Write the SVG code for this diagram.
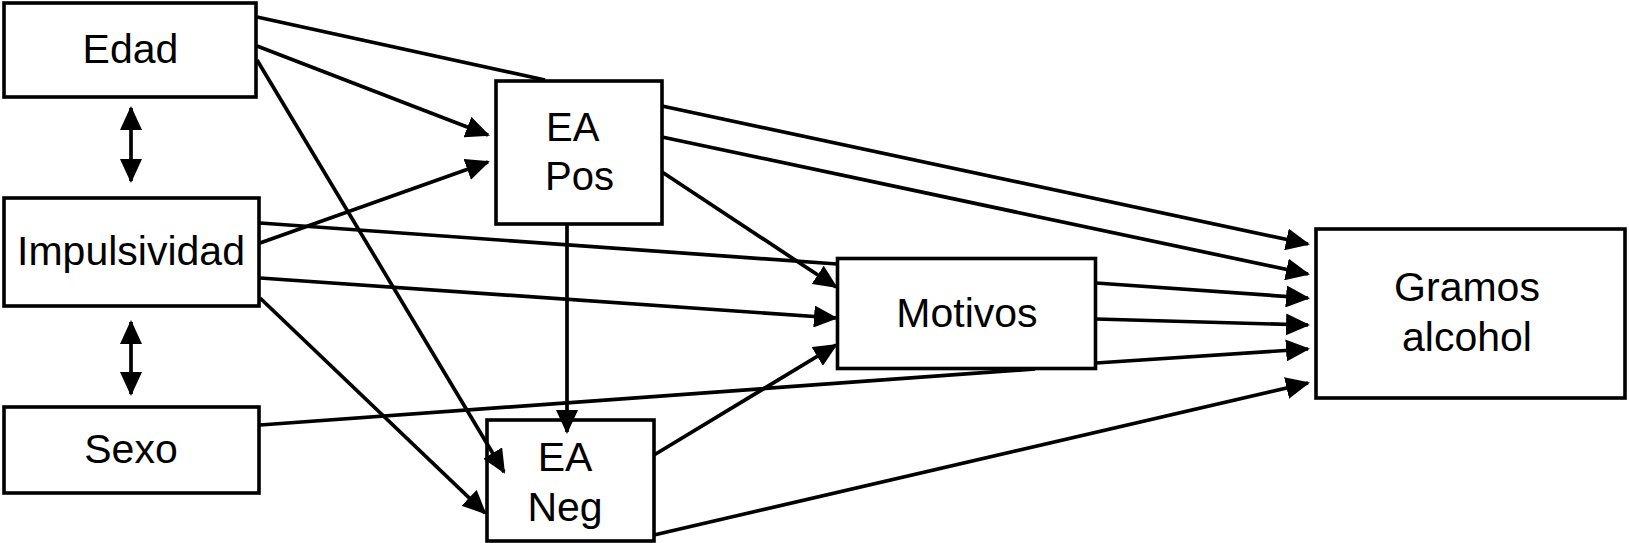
<svg xmlns="http://www.w3.org/2000/svg" width="1629" height="543" viewBox="0 0 1629 543">
<style>
.box{fill:#fff;stroke:#000;stroke-width:3.6}
.lbl{font-family:"Liberation Sans",Arial,sans-serif;font-size:41px;fill:#000;text-anchor:middle}
.lbl2{font-family:"Liberation Sans",Arial,sans-serif;font-size:40px;fill:#000}
.c{fill:none;stroke:#000;stroke-width:3.7}
.a{marker-end:url(#ah)}
.d{marker-start:url(#ah);marker-end:url(#ah)}
</style>
<defs>
<marker id="ah" markerUnits="userSpaceOnUse" viewBox="0 0 24 22" markerWidth="24" markerHeight="22" refX="22" refY="11" orient="auto-start-reverse">
<path d="M0,0 L24,11 L0,22 z" fill="#000"/>
</marker>
</defs>
<rect width="1629" height="543" fill="#fff"/>
<g id="nodes">
<g id="edad"><rect class="box" x="4" y="3" width="252" height="94"/><text class="lbl" x="130.5" y="63">Edad</text></g>
<g id="impulsividad"><rect class="box" x="4" y="198" width="255" height="108"/><text class="lbl" x="131" y="265">Impulsividad</text></g>
<g id="sexo"><rect class="box" x="4" y="407" width="255" height="86"/><text class="lbl" x="131" y="463">Sexo</text></g>
<g id="eapos"><rect class="box" x="496" y="81" width="166" height="143"/><text class="lbl2" x="546" y="141">EA</text><text class="lbl2" x="545" y="190">Pos</text></g>
<g id="eaneg"><rect class="box" x="487" y="420" width="167" height="121"/><text class="lbl" x="565" y="471">EA</text><text class="lbl" x="565" y="521">Neg</text></g>
<g id="motivos"><rect class="box" x="837.5" y="258.5" width="258" height="110"/><text class="lbl" x="967" y="327">Motivos</text></g>
<g id="gramos"><rect class="box" x="1316" y="229" width="309" height="169"/><text class="lbl" x="1467" y="301">Gramos</text><text class="lbl" x="1467" y="351">alcohol</text></g>
</g>
<g id="connectors">
<path class="c a" d="M257,17 L545,80 M662,106 L1308,244"/>
<path class="c a" d="M257,46 L488,135"/>
<path class="c a" d="M257,60 L504,472"/>
<path class="c a" d="M260,243 L488,162"/>
<path class="c a" d="M260,223 L837,264 M1096,283 L1308,298"/>
<path class="c a" d="M260,278 L836,318"/>
<path class="c a" d="M260,298 L485,513"/>
<path class="c a" d="M260,425 L1035,369 M1096,363 L1308,349"/>
<path class="c a" d="M662,137 L1308,274"/>
<path class="c a" d="M662,172 L836,287"/>
<path class="c a" d="M567,224 L567,432"/>
<path class="c a" d="M654,455 L836,345"/>
<path class="c a" d="M654,535 L1308,383"/>
<path class="c a" d="M1096,319 L1308,325"/>
<path class="c d" d="M131,108 L131,181"/>
<path class="c d" d="M131,322 L131,394"/>
</g>
</svg>
